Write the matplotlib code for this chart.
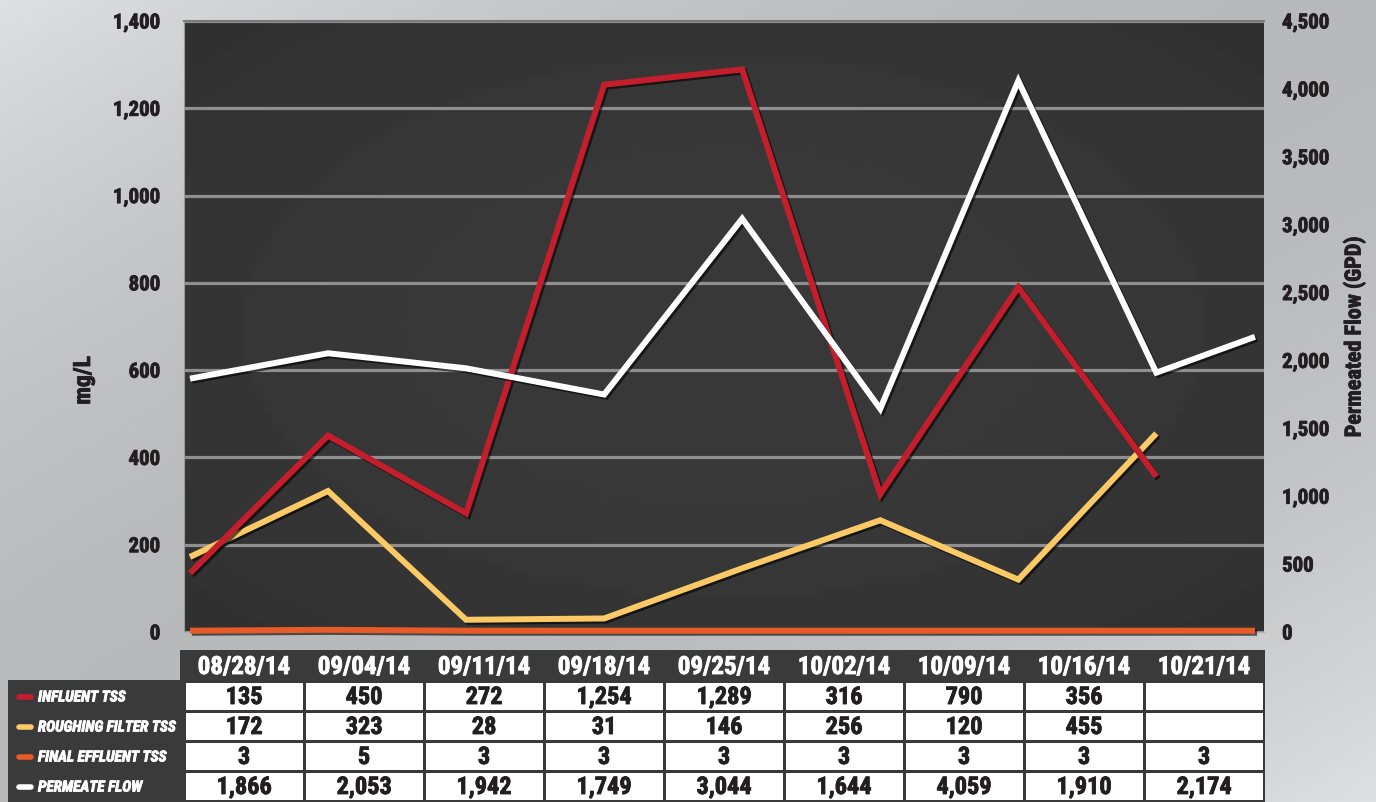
import os
import numpy as np
import pandas as pd
import matplotlib as m
import matplotlib.pyplot as plt
import matplotlib.patheffects as pe
from matplotlib.patches import Rectangle
from matplotlib import font_manager as fm

dates = pd.to_datetime(['2014-08-28', '2014-09-04', '2014-09-11', '2014-09-18', '2014-09-25',
                        '2014-10-02', '2014-10-09', '2014-10-16', '2014-10-21'])
influent = [135, 450, 272, 1254, 1289, 316, 790, 356, np.nan]
roughing = [172, 323, 28, 31, 146, 256, 120, 455, np.nan]
effluent = [3, 5, 3, 3, 3, 3, 3, 3, 3]
permeate = [1866, 2053, 1942, 1749, 3044, 1644, 4059, 1910, 2174]

series_names = ['INFLUENT TSS', 'ROUGHING FILTER TSS', 'FINAL EFFLUENT TSS', 'PERMEATE FLOW']
series_colors = ['#c41e2c', '#fbc965', '#e85a26', '#ffffff']


def pick_font(names, fallback_style='normal'):
    files = {os.path.basename(f.fname): f.fname for f in fm.fontManager.ttflist}
    for n in names:
        if n in files:
            return fm.FontProperties(fname=files[n])
    return fm.FontProperties(family=['Roboto', 'DejaVu Sans'], weight='bold', style=fallback_style)


bold = pick_font(['RobotoCondensed-Bold.ttf', 'DejaVuSansCondensed-Bold.ttf',
                  'LiberationSansNarrow-Bold.ttf'])
boldit = pick_font(['RobotoCondensed-BoldItalic.ttf', 'DejaVuSansCondensed-BoldOblique.ttf',
                    'LiberationSansNarrow-BoldItalic.ttf'], 'italic')


def fp(base, size):
    f = base.copy()
    f.set_size(size)
    return f


def heavy(color):
    return [pe.withStroke(linewidth=0.6, foreground=color)]


ink = '#231f20'

W, H = 1376, 802
fig = plt.figure(figsize=(W / 100, H / 100), dpi=100)

# silver background
bg = fig.add_axes([0, 0, 1, 1], zorder=-10)
xx, yy = np.meshgrid(np.linspace(0, 1, 200), np.linspace(0, 1, 120))
s = 0.5 * xx + 0.5 * yy
shade = 0.735 + 0.6 * (s - 0.5) ** 2
rgb = np.dstack([shade * 0.985, shade * 0.99, shade * 1.0]).clip(0, 1)
bg.imshow(rgb, extent=[0, 1, 0, 1], aspect='auto')
bg.axis('off')

# plot area
L, T, R, B = 184, 21, 1264, 632
ax = fig.add_axes([L / W, 1 - B / H, (R - L) / W, (B - T) / H], zorder=1)
gx, gy = np.meshgrid(np.linspace(-1, 1, 160), np.linspace(-1, 1, 100))
board = 0.225 - 0.035 * (gx ** 2 + gy ** 2) / 2
ax.imshow(board, cmap='gray', vmin=0, vmax=1, extent=[0, 1, 0, 1], aspect='auto',
          transform=ax.transAxes, zorder=0)

shadow = [pe.SimpleLineShadow(offset=(1.5, -1.5), shadow_color='black', alpha=0.6), pe.Normal()]
lw = 4.3
ax.plot(dates, effluent, color=series_colors[2], lw=lw, solid_capstyle='butt',
        path_effects=shadow, zorder=3, clip_on=False)
for vals, c in zip([roughing, influent], [series_colors[1], series_colors[0]]):
    ax.plot(dates, vals, color=c, lw=lw, solid_joinstyle='miter', solid_capstyle='butt',
            path_effects=shadow, zorder=3)

x0 = dates[0] - pd.Timedelta(hours=7.3)
x1 = dates[-1] + pd.Timedelta(hours=11)
ax.set_xlim(x0, x1)
ax.set_ylim(0, 1400)
ax.set_yticks(np.arange(0, 1401, 200))
ax.set_yticklabels([f'{v:,}' for v in range(0, 1401, 200)], fontproperties=fp(bold, 15))
ax.set_xticks([])
ax.grid(axis='y', color='#8f8f90', lw=2.3, zorder=1)
ax.set_axisbelow(True)
ax.tick_params(axis='y', length=0, pad=17, labelcolor=ink)
ax.spines['right'].set_visible(False)
ax.spines['top'].set_color('#7a7a7a')
ax.spines['top'].set_linewidth(1.5)
ax.spines['left'].set_color('#9a9a9a')
ax.spines['bottom'].set_color('#b0b0b0')
ax.set_ylabel('mg/L', fontproperties=fp(bold, 17), color=ink)
ax.yaxis.set_label_coords((95 - L) / (R - L), 0.412)

ax2 = ax.twinx()
ax2.plot(dates, permeate, color=series_colors[3], lw=lw, solid_joinstyle='miter',
         solid_capstyle='butt', path_effects=shadow, zorder=4)
ax2.set_xlim(x0, x1)
ax2.set_ylim(0, 4500)
ax2.set_yticks(np.arange(0, 4501, 500))
ax2.set_yticklabels([f'{v:,}' for v in range(0, 4501, 500)], fontproperties=fp(bold, 15))
ax2.tick_params(axis='y', length=0, pad=13, labelcolor=ink)
for sp in ax2.spines.values():
    sp.set_visible(False)
ax2.set_ylabel('Permeated Flow (GPD)', fontproperties=fp(bold, 16), color=ink)
ax2.yaxis.set_label_coords((1343 - L) / (R - L), 0.483)

for t in ax.get_yticklabels() + ax2.get_yticklabels():
    t.set_path_effects(heavy(ink))
ax.yaxis.label.set_path_effects(heavy(ink))
ax2.yaxis.label.set_path_effects(heavy(ink))

# data table below the chart
tb = fig.add_axes([0, 0, 1, 1], zorder=2)
tb.set_xlim(0, W)
tb.set_ylim(H, 0)
tb.axis('off')
dark = '#3a3a3b'
head_top, head_bot = 650, 682
row_h = 30
ncol = len(dates)
col_w = (R - L) / ncol
tb.add_patch(Rectangle((L - 4, head_top), R - L + 5, H - head_top, color=dark, lw=0))
tb.add_patch(Rectangle((8, head_bot - 2), L - 8, H - head_bot + 2, color=dark, lw=0))
for j, d in enumerate(dates):
    cx = L + col_w * (j + 0.5)
    tb.text(cx, (head_top + head_bot) / 2 + 1, d.strftime('%m/%d/%y'), color='white',
            fontproperties=fp(bold, 18), ha='center', va='center',
            path_effects=heavy('white'))
rows = [influent, roughing, effluent, permeate]
for i, vals in enumerate(rows):
    top = head_bot + 1 + i * row_h
    for j in range(ncol):
        left = L + col_w * j
        tb.add_patch(Rectangle((left + 2, top), col_w - 3.5, row_h - 3, color='white', lw=0))
        v = vals[j]
        if not pd.isna(v):
            tb.text(left + col_w / 2, top + (row_h - 3) / 2 + 1, f'{int(v):,}', color=ink,
                    fontproperties=fp(bold, 17.5), ha='center', va='center',
                    path_effects=heavy(ink))
    cy = top + (row_h - 3) / 2
    tb.plot([19, 31], [cy, cy], color=series_colors[i], lw=4, solid_capstyle='round')
    tb.text(38, cy + 1, series_names[i], color='white', fontproperties=fp(boldit, 11),
            ha='left', va='center', path_effects=heavy('white'))

fig.savefig('out.png', dpi=100)
